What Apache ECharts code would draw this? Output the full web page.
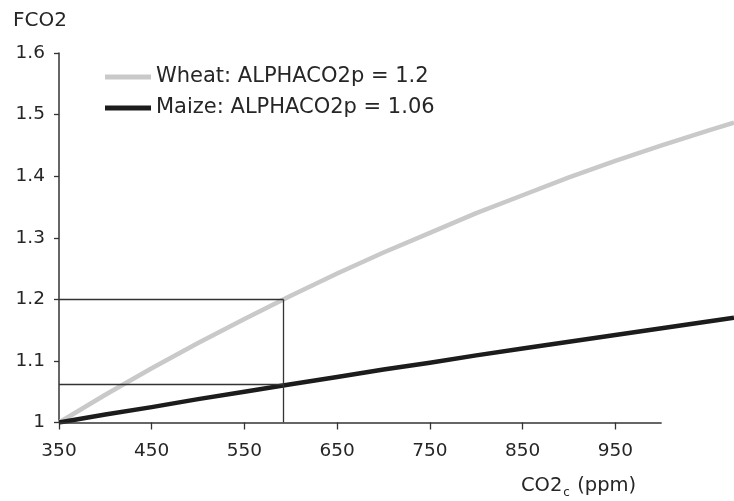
<!DOCTYPE html>
<html>
<head>
<meta charset="utf-8">
<script src="https://cdn.jsdelivr.net/npm/echarts@6/dist/echarts.min.js"></script>
<style>
html,body{margin:0;padding:0;background:#fff;}
#chart{width:734px;height:501px;}
</style>
</head>
<body>
<div id="chart"></div>
<script>
// Data
const co2 = [350, 400, 450, 500, 550, 600, 650, 700, 750, 800, 850, 900, 950, 1000, 1050, 1078];
const wheat = [1.000, 1.045, 1.088, 1.129, 1.168, 1.206, 1.242, 1.276, 1.308, 1.340, 1.369, 1.398, 1.425, 1.450, 1.474, 1.487];
const maize = [1.000, 1.013, 1.025, 1.038, 1.050, 1.062, 1.074, 1.086, 1.097, 1.109, 1.120, 1.131, 1.142, 1.153, 1.164, 1.170];
const xTicks = [350, 450, 550, 650, 750, 850, 950];
const xAxisEnd = 1000;
const refX = 592;
const refWheat = 1.2;
const refMaize = 1.062;
const wheatName = 'Wheat: ALPHACO2p = 1.2';
const maizeName = 'Maize: ALPHACO2p = 1.06';

const FONT = 'DejaVu Sans';
const TXT = '#262626';
const AX = '#333333';

const chart = echarts.init(document.getElementById('chart'), null, {renderer: 'canvas'});
chart.setOption({
  animation: false,
  backgroundColor: '#ffffff',
  title: {
    text: 'FCO2', left: 13, top: 11, padding: 0,
    textStyle: {fontFamily: FONT, fontSize: 20, fontWeight: 'normal', color: TXT}
  },
  legend: {
    orient: 'vertical', left: 105, top: 66, padding: 0,
    itemWidth: 46, itemHeight: 5, itemGap: 9, icon: 'rect',
    data: [wheatName, maizeName],
    textStyle: {fontFamily: FONT, fontSize: 21, color: TXT, lineHeight: 22}
  },
  grid: {left: 59, top: 53, width: 675, height: 369.5, containLabel: false},
  xAxis: {
    type: 'value', min: 350, max: 1078,
    axisLine: {show: false},
    splitLine: {show: false},
    axisTick: {show: true, length: 7, customValues: xTicks, lineStyle: {color: AX, width: 1.3}},
    axisLabel: {customValues: xTicks, margin: 19, fontFamily: FONT, fontSize: 18.5, color: TXT}
  },
  yAxis: {
    type: 'value', min: 1, max: 1.6, interval: 0.1,
    axisLine: {show: true, lineStyle: {color: AX, width: 1.5}},
    splitLine: {show: false},
    axisTick: {show: true, length: 5, lineStyle: {color: AX, width: 1.3}},
    axisLabel: {margin: 14, fontFamily: FONT, fontSize: 18.5, color: TXT,
      formatter: v => String(Math.round(v * 10) / 10)}
  },
  graphic: [{
    type: 'text', left: 521, top: 476, z: 10,
    style: {
      text: 'CO2{s|c} (ppm)',
      font: '19.5px "DejaVu Sans"', fill: TXT,
      rich: {s: {fontFamily: FONT, fontSize: 12, fill: TXT, padding: [14, 1, 0, 1]}}
    }
  }],
  series: [
    {
      name: 'refs', type: 'line', data: [], clip: false, silent: true, z: 1,
      markLine: {
        silent: true, symbol: ['none', 'none'], animation: false,
        label: {show: false},
        lineStyle: {color: AX, width: 1.3, type: 'solid'},
        emphasis: {disabled: true},
        data: [
          [{coord: [350, refWheat]}, {coord: [refX, refWheat]}],
          [{coord: [350, refMaize]}, {coord: [refX, refMaize]}],
          [{coord: [refX, 1]}, {coord: [refX, refWheat]}],
          [{coord: [350, 1]}, {coord: [xAxisEnd, 1], lineStyle: {width: 1.6}}]
        ]
      }
    },
    {
      name: wheatName, type: 'line', smooth: false, symbol: 'none', z: 2,
      color: '#c9c9c9',
      lineStyle: {color: '#c9c9c9', width: 4.5, join: 'round'},
      data: co2.map((x, i) => [x, wheat[i]])
    },
    {
      name: maizeName, type: 'line', smooth: false, symbol: 'none', z: 3,
      color: '#1c1c1c',
      lineStyle: {color: '#1c1c1c', width: 4.5, join: 'round'},
      data: co2.map((x, i) => [x, maize[i]])
    }
  ]
});
</script>
</body>
</html>
